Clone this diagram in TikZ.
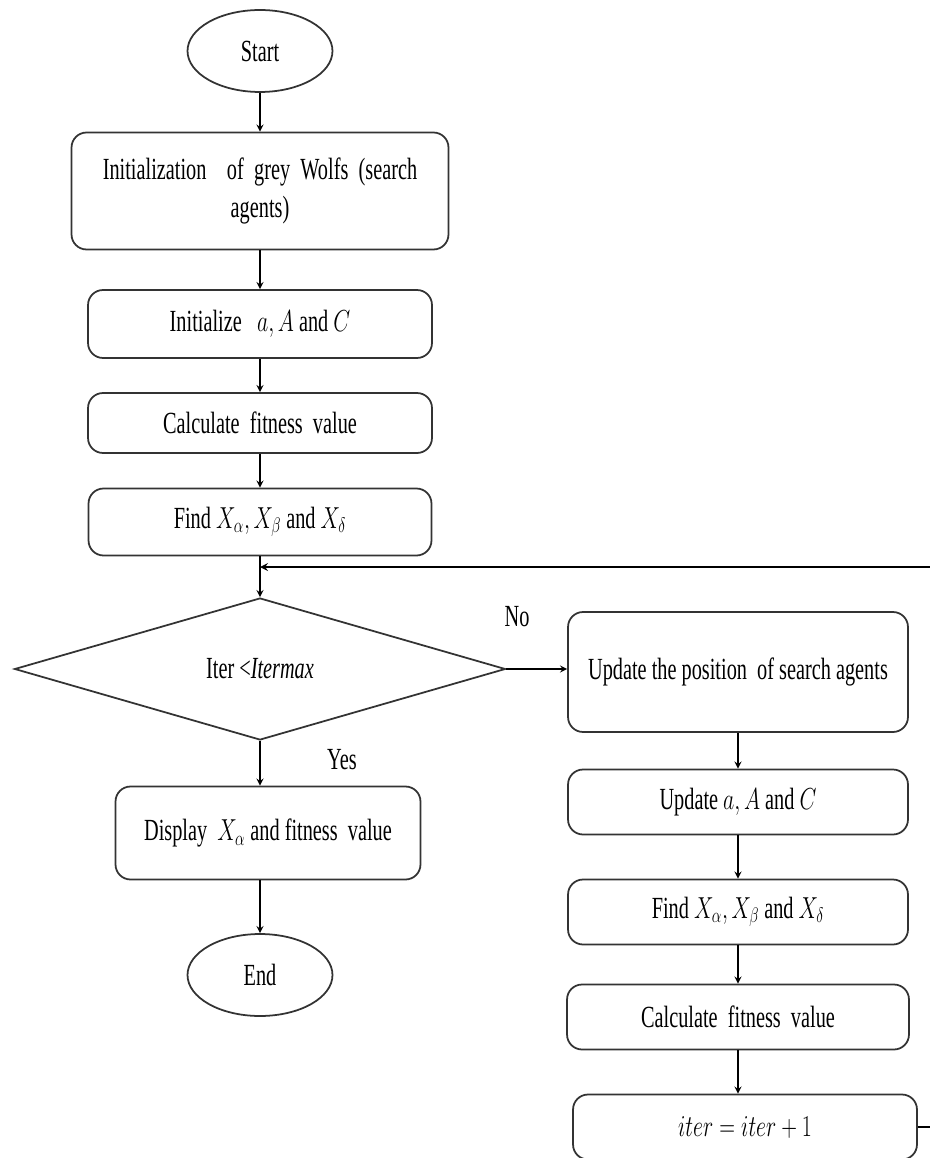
\documentclass[tikz,border=0pt]{standalone}
\usepackage{amsmath}
\usepackage{fontspec}
\setmainfont{Liberation Serif}[FakeStretch=0.66]
\usepackage{tikz}
\usetikzlibrary{shapes.geometric, arrows}
\newcommand{\mth}[1]{\scalebox{0.72}[1]{$#1$}}
\tikzstyle{startstop} = [ellipse, draw=black!80, line width=1pt, minimum width=2.9cm, minimum height=1.64cm, inner sep=0pt]
\tikzstyle{process} = [rectangle, rounded corners=0.3cm, draw=black!80, line width=1pt, align=center, inner sep=2pt]
\tikzstyle{decision} = [diamond, draw=black!80, line width=1pt, minimum width=9.82cm, minimum height=2.84cm, inner sep=0pt]
\tikzstyle{arrow} = [line width=0.8pt,->,>=stealth]

\begin{document}
\begin{tikzpicture}[x=0.02cm, y=-0.02cm,
	every node/.style={font=\fontsize{17.5}{22}\selectfont}]
	\useasboundingbox (0,0) rectangle (929,1158);
	% left column
	\node[startstop] (start) at (260,51) {Start};
	\node[process, minimum width=7.54cm, minimum height=2.34cm, text width=7cm] (init) at (260,191) {Initialization \ of grey Wolfs (search\\ agents)};
	\node[process, minimum width=6.88cm, minimum height=1.36cm] (initz) at (260,324) {Initialize \ \ \mth{a, A} and \mth{C}};
	\node[process, minimum width=6.88cm, minimum height=1.2cm] (calcA) at (260,423) {Calculate \ fitness \ value};
	\node[process, minimum width=6.86cm, minimum height=1.34cm] (findA) at (260,522) {Find \mth{X_\alpha, X_\beta} and \mth{X_\delta}};
	\coordinate (join) at (260,567);
	\node[decision] (check) at (260,669) {Iter <\textit{Itermax}};
	\node[process, minimum width=6.1cm, minimum height=1.86cm] (show) at (268,833) {Display \ \mth{X_\alpha} and fitness \ value};
	\node[startstop] (stop) at (260,975) {End};
	% right column
	\node[process, minimum width=6.8cm, minimum height=2.4cm] (upd) at (738,672) {Update the position \ of search agents};
	\node[process, minimum width=6.8cm, minimum height=1.3cm] (updA) at (738,802) {Update \mth{a, A} and \mth{C}};
	\node[process, minimum width=6.8cm, minimum height=1.3cm] (findB) at (738,912) {Find \mth{X_\alpha, X_\beta} and \mth{X_\delta}};
	\node[process, minimum width=6.84cm, minimum height=1.3cm] (calcB) at (738,1017) {Calculate \ fitness \ value};
	\node[process, minimum width=6.88cm, minimum height=1.3cm] (iter) at (745,1127) {\mth{iter = iter + 1}};
	% labels
	\node (no) at (517,617) {No};
	\node (yes) at (342,760) {Yes};
	% arrows
	\draw[arrow] (start) -- (init);
	\draw[arrow] (init) -- (initz);
	\draw[arrow] (initz) -- (calcA);
	\draw[arrow] (calcA) -- (findA);
	\draw[arrow] (findA) -- (check);
	\draw[arrow] (check.east) -- (check.east -| upd.west);
	\draw[arrow] (check.south) -- (check.south |- show.north);
	\draw[arrow] (show.south -| stop.north) -- (stop.north);
	\draw[arrow] (upd.south -| updA.north) -- (updA.north);
	\draw[arrow] (updA) -- (findB);
	\draw[arrow] (findB) -- (calcB);
	\draw[arrow] (calcB.south) -- (calcB.south |- iter.north);
	\draw[arrow, line width=1pt] (iter.east) -- ++(30,0) |- (join);
\end{tikzpicture}
\end{document}
